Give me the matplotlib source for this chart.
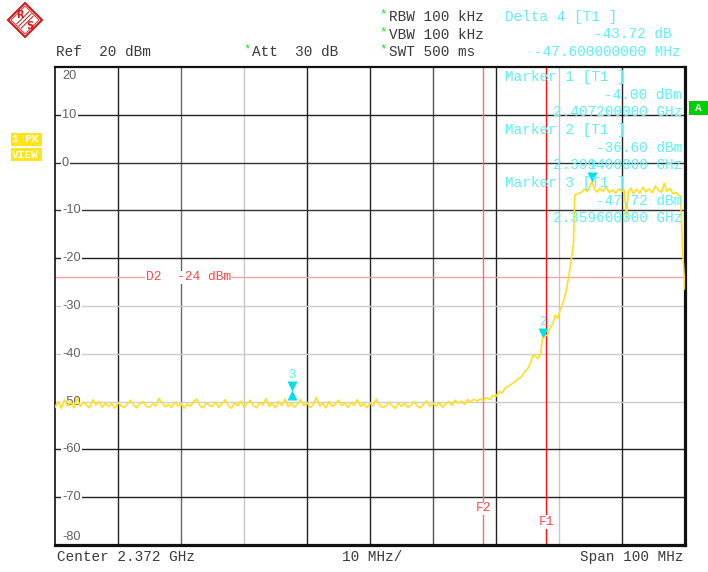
import matplotlib.pyplot as plt
from matplotlib.patches import Polygon, Rectangle
from matplotlib.lines import Line2D
from matplotlib.transforms import offset_copy

W, H = 708, 572
MONO = 'Liberation Mono'

# sweep: start 2322 MHz, span 100 MHz
start_mhz = 2322
span_mhz = 100

# trace, offsets in MHz from start and level in dBm
noise_off = [0.0, 0.5, 1.0, 1.5, 2.0, 2.5, 3.0, 3.5, 4.0, 4.5,
             5.0, 5.5, 6.0, 6.5, 7.0, 7.5, 8.0, 8.5, 9.0, 9.5,
             10.0, 10.5, 11.0, 11.5, 12.0, 12.5, 13.0, 13.5, 14.0, 14.5,
             15.0, 15.5, 16.0, 16.5, 17.0, 17.5, 18.0, 18.5, 19.0, 19.5,
             20.0, 20.5, 21.0, 21.5, 22.0, 22.5, 23.0, 23.5, 24.0, 24.5,
             25.0, 25.5, 26.0, 26.5, 27.0, 27.5, 28.0, 28.5, 29.0, 29.5,
             30.0, 30.5, 31.0, 31.5, 32.0, 32.5, 33.0, 33.5, 34.0, 34.5,
             35.0, 35.5, 36.0, 36.5, 37.0, 37.5, 38.0, 38.5, 39.0, 39.5,
             40.0, 40.5, 41.0, 41.5, 42.0, 42.5, 43.0, 43.5, 44.0, 44.5,
             45.0, 45.5, 46.0, 46.5, 47.0, 47.5, 48.0, 48.5, 49.0, 49.5,
             50.0, 50.5, 51.0, 51.5, 52.0, 52.5, 53.0, 53.5, 54.0, 54.5,
             55.0, 55.5, 56.0, 56.5, 57.0, 57.5, 58.0, 58.5, 59.0, 59.5,
             60.0, 60.5, 61.0, 61.5, 62.0, 62.5, 63.0, 63.5, 64.0, 64.5,
             65.0, 65.5, 66.0, 66.5]
noise_lvl = [-51.2, -50.0, -51.4, -49.6, -50.9, -49.9, -51.3, -49.2, -51.0, -50.1,
             -50.8, -51.3, -49.6, -50.7, -50.0, -51.2, -50.3, -51.0, -50.4, -51.4,
             -50.2, -50.9, -51.2, -50.5, -49.7, -50.8, -51.3, -50.4, -50.0, -51.0,
             -51.2, -50.5, -50.9, -49.3, -50.3, -51.1, -50.6, -51.2, -50.1, -50.9,
             -50.4, -51.4, -50.5, -51.0, -50.0, -49.5, -50.9, -51.3, -50.3, -50.8,
             -51.0, -50.1, -51.2, -50.5, -49.6, -50.8, -51.4, -50.3, -50.9, -49.9,
             -51.2, -50.4, -49.7, -50.9, -51.3, -50.2, -50.7, -49.4, -51.0, -50.3,
             -51.3, -50.0, -50.8, -49.5, -51.0, -50.3, -51.2, -50.5, -49.6, -50.9,
             -50.2, -51.2, -50.6, -49.1, -50.9, -50.4, -51.3, -50.0, -51.0, -50.5,
             -49.7, -50.9, -50.3, -51.2, -50.2, -50.8, -49.6, -51.0, -50.4, -51.3,
             -50.3, -50.9, -49.5, -50.7, -51.2, -51.0, -50.2, -50.8, -51.4, -50.4,
             -51.0, -50.3, -51.2, -50.8, -50.0, -50.9, -51.3, -50.5, -49.9, -51.0,
             -50.4, -50.9, -50.2, -51.2, -50.5, -50.0, -50.8, -49.7, -50.3, -49.9,
             -50.6, -49.6, -50.1, -49.5]
band_off = [67.0, 67.5, 68.0, 68.5, 69.0, 69.5, 70.0, 70.5, 71.0, 71.5,
            72.0, 72.5, 73.0, 73.5, 74.0, 74.5, 75.0, 75.5, 75.9, 76.3,
            76.7, 77.1, 77.4, 77.8, 78.2, 78.6, 79.0, 79.4, 79.8, 80.2,
            80.6, 81.0, 81.3, 81.7, 82.0, 82.3, 82.5, 83.0, 83.5, 84.0,
            84.5, 85.2, 85.6, 86.0, 86.5, 87.0, 87.5, 88.0, 88.5, 89.0,
            89.5, 90.0, 90.4, 90.7, 91.0, 91.4, 91.8, 92.3, 92.8, 93.3,
            93.8, 94.3, 94.8, 95.3, 95.8, 96.3, 96.7, 97.1, 97.6, 98.1,
            98.6, 99.0, 99.3, 99.6, 100.0]
band_lvl = [-49.9, -49.4, -49.8, -49.2, -49.6, -48.7, -48.9, -47.9, -48.2, -47.1,
            -46.8, -46.3, -45.9, -45.2, -44.9, -43.8, -43.2, -41.9, -40.2, -40.6,
            -41.0, -39.8, -36.6, -36.3, -36.0, -34.5, -33.8, -31.9, -32.6, -30.8,
            -29.4, -27.6, -25.8, -22.5, -19.8, -16.9, -6.8, -6.5, -6.3, -5.6,
            -6.1, -4.0, -5.3, -6.2, -5.4, -6.0, -5.1, -6.3, -5.7, -6.4,
            -5.5, -6.0, -5.8, -11.8, -6.2, -5.3, -6.5, -5.6, -6.4, -5.2,
            -6.1, -5.5, -6.3, -4.9, -5.8, -6.2, -4.3, -6.0, -5.4, -6.5,
            -6.3, -6.8, -7.0, -18.0, -26.5]

trace_x = [start_mhz + o for o in noise_off + band_off]
trace_y = noise_lvl + band_lvl

# markers (MHz, dBm)
marker_names = ['1', '2', '3']
marker_freq = [2407.2, 2399.4, 2359.6]
marker_lvl = [-4.00, -36.60, -47.72]

# lines
display_line = -24
f1_mhz = 2400.0
f2_mhz = 2390.0

ytick_vals = [20, 10, 0, -10, -20, -30, -40, -50, -60, -70, -80]
xgrid = [2332, 2342, 2352, 2362, 2372, 2382, 2392, 2402, 2412]
xgrid_col = ['#222222', '#666666', '#c8c8c8', '#222222', '#222222',
             '#555555', '#222222', '#c8c8c8', '#222222']
ygrid = [10, 0, -10, -20, -30, -40, -50, -60, -70]
ygrid_col = ['#222222', '#333333', '#333333', '#222222', '#cccccc',
             '#cccccc', '#cccccc', '#222222', '#222222']


def fxy(x, y):
    return x / W, 1 - y / H


def ftext(x, y, s, **kw):
    fx, fy = fxy(x, y)
    kw.setdefault('family', MONO)
    kw.setdefault('fontsize', 10.4)
    kw.setdefault('va', 'center')
    fig.text(fx, fy, s, **kw)


fig = plt.figure(figsize=(W / 100, H / 100), dpi=100)
fig.patch.set_facecolor('white')
ax = fig.add_axes([55 / W, 1 - 545 / H, 630 / W, 478 / H])
ax.set_xlim(start_mhz, start_mhz + span_mhz)
ax.set_ylim(-80, 20)
ax.set_xticks([])
ax.set_yticks([])
for side, lw in [('left', 1.2), ('top', 1.6), ('bottom', 2.3), ('right', 2.3)]:
    ax.spines[side].set_linewidth(lw)
    ax.spines[side].set_color('#111111')

for xv, c in zip(xgrid, xgrid_col):
    ax.axvline(xv, color=c, lw=1.0, zorder=1)
for yv, c in zip(ygrid, ygrid_col):
    ax.axhline(yv, color=c, lw=1.0, zorder=1)

# y labels drawn inside the grid, like the analyzer screen
for v in ytick_vals:
    if v == 20:
        tr = offset_copy(ax.transData, fig=fig, y=-6.5, units='points')
    elif v == -80:
        tr = offset_copy(ax.transData, fig=fig, y=6, units='points')
    else:
        tr = ax.transData
    ax.text(start_mhz + 1.1, v, str(v), transform=tr, family='Liberation Sans',
            fontsize=9.2, color='#606060', va='center', ha='left', zorder=2,
            bbox=dict(facecolor='white', edgecolor='none', pad=1.0))

# display line and frequency lines
ax.axhline(display_line, color='#f4a3a3', lw=1.0, zorder=2)
ax.text(2336.4, display_line, 'D2  -24 dBm', family=MONO, fontsize=9.4,
        color='#ff4a4a', va='center', ha='left', zorder=2,
        bbox=dict(facecolor='white', edgecolor='none', pad=0.5))
ax.axvline(f2_mhz, color='#ff6a6a', lw=1.0, zorder=2)
ax.axvline(f1_mhz, color='#ff1010', lw=1.0, zorder=2)
ax.text(f2_mhz, -72.3, 'F2', family=MONO, fontsize=9.4, color='#ff4a4a',
        ha='center', va='center', zorder=2,
        bbox=dict(facecolor='white', edgecolor='none', pad=0.5))
ax.text(f1_mhz, -75.2, 'F1', family=MONO, fontsize=9.4, color='#ff4a4a',
        ha='center', va='center', zorder=2,
        bbox=dict(facecolor='white', edgecolor='none', pad=0.5))

# trace
ax.plot(trace_x, trace_y, color='#ffe020', lw=1.2, zorder=3)

# markers
down = offset_copy(ax.transData, fig=fig, y=3.4, units='points')
up = offset_copy(ax.transData, fig=fig, y=-3.4, units='points')
lab = offset_copy(ax.transData, fig=fig, y=11, units='points')
for name, f, l in zip(marker_names, marker_freq, marker_lvl):
    ax.plot([f], [l], 'v', color='#00e0ec', ms=7, mec='none', transform=down, zorder=4)
    ax.text(f, l, name, transform=lab, family=MONO, fontsize=8.5, color='#55eef5',
            ha='center', va='center', zorder=4)
# delta 4 sits on marker 3
ax.plot([marker_freq[2]], [marker_lvl[2]], '^', color='#00e0ec', ms=7, mec='none',
        transform=up, zorder=4)

# header
cyan = '#5ef0f8'
dark = '#3a3a3a'
green = '#22dd22'
ftext(56, 52, 'Ref  20 dBm', color=dark)
ftext(243, 49, '*', color=green, fontsize=9)
ftext(252, 52, 'Att  30 dB', color=dark)
for yy, s in [(17, 'RBW 100 kHz'), (35, 'VBW 100 kHz'), (52, 'SWT 500 ms')]:
    ftext(379, yy - 3, '*', color=green, fontsize=9)
    ftext(389, yy, s, color=dark)
ftext(505, 17, 'Delta 4 [T1 ]', color=cyan)
ftext(672, 34, '-43.72 dB', color=cyan, ha='right')
ftext(681, 52, '-47.600000000 MHz', color=cyan, ha='right')

marker_rows = [(77, 'Marker 1 [T1 ]', '-4.00 dBm', '2.407200000 GHz'),
               (130, 'Marker 2 [T1 ]', '-36.60 dBm', '2.399400000 GHz'),
               (183, 'Marker 3 [T1 ]', '-47.72 dBm', '2.359600000 GHz')]
for yy, a, b, c in marker_rows:
    ftext(505, yy, a, color=cyan, zorder=5)
    ftext(682, yy + 18, b, color=cyan, ha='right', zorder=5)
    ftext(682, yy + 35, c, color=cyan, ha='right', zorder=5)

# footer
ftext(57, 557, 'Center 2.372 GHz', color=dark)
ftext(372, 557, '10 MHz/', color=dark, ha='center')
ftext(684, 557, 'Span 100 MHz', color=dark, ha='right')

# side boxes
for y0, s in [(133, '1 PK'), (148, 'VIEW')]:
    fx, fy = fxy(11, y0 + 13)
    fig.add_artist(Rectangle((fx, fy), 31 / W, 13 / H, transform=fig.transFigure,
                             facecolor='#ffe41a', edgecolor='none'))
    ftext(12, y0 + 6.5, s, color='white', fontsize=8, weight='bold')
fx, fy = fxy(689, 115)
fig.add_artist(Rectangle((fx, fy), 19 / W, 14 / H, transform=fig.transFigure,
                         facecolor='#00d000', edgecolor='none'))
ftext(698.5, 108, 'A', color='white', fontsize=8, weight='bold', ha='center')

# logo
red = '#d01818'
pts = [fxy(25, 3), fxy(42, 20), fxy(25, 37), fxy(8, 20)]
fig.add_artist(Polygon(pts, closed=True, transform=fig.transFigure,
                       facecolor='white', edgecolor=red, lw=1.5))
pts2 = [fxy(25, 6), fxy(39, 20), fxy(25, 34), fxy(11, 20)]
fig.add_artist(Polygon(pts2, closed=True, transform=fig.transFigure,
                       facecolor='none', edgecolor=red, lw=0.6))
for d in (-2.2, 0, 2.2):
    a = fxy(19 + d, 26 + d)
    b = fxy(31 + d, 14 + d)
    fig.add_artist(Line2D([a[0], b[0]], [a[1], b[1]], transform=fig.transFigure,
                          color=red, lw=0.7))
ftext(20, 15, 'R', color=red, fontsize=7, weight='bold', family='DejaVu Sans', ha='center')
ftext(30, 26, 'S', color=red, fontsize=7, weight='bold', family='DejaVu Sans', ha='center')

fig.savefig('out.png', dpi=100)
